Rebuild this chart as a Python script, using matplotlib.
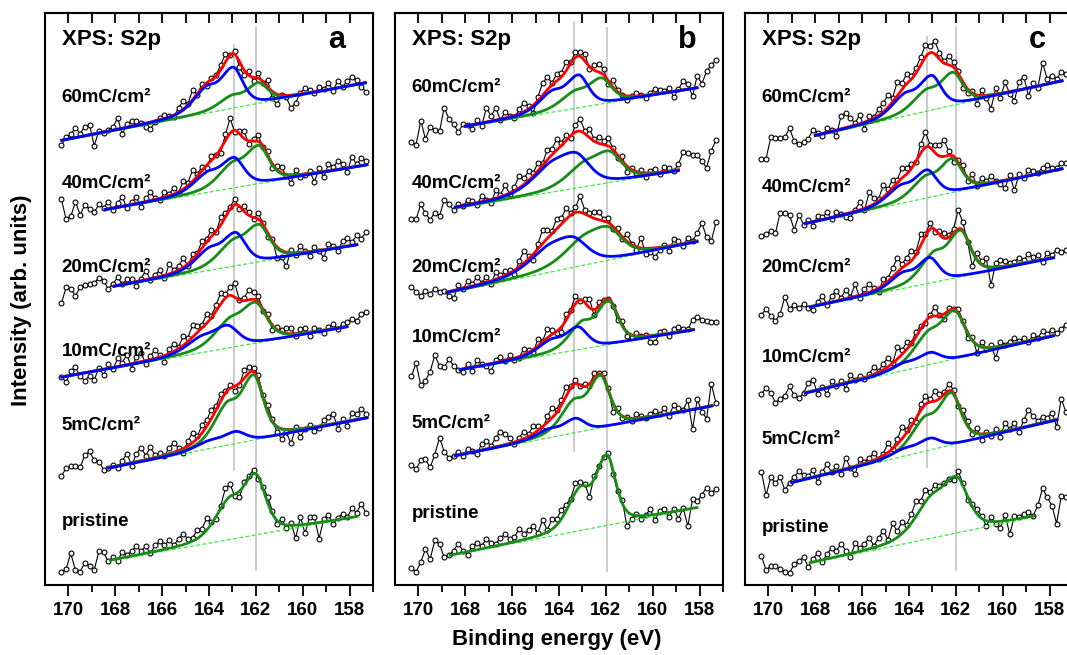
import numpy as np
import matplotlib.pyplot as plt

plt.rcParams['font.family'] = ['Liberation Sans', 'DejaVu Sans']
plt.rcParams['font.weight'] = 'bold'

# measured binding energies: 0.2 eV steps from 170.3 down to 157.3 eV
energy = np.round(np.arange(170.3, 157.25, -0.2), 2)

SO_SPLIT = 1.18   # S2p3/2 - S2p1/2 splitting (eV)
ASYM = 1.35       # extra width on the high binding energy side
ETA = 0.45        # lorentzian fraction of the line shape

doses = ['60mC/cm²', '40mC/cm²', '20mC/cm²', '10mC/cm²', '5mC/cm²', 'pristine']
letters = ['a', 'b', 'c']

# ---- fit results, spectra listed top to bottom (vertical offsets included) ----
# panel a
fit_lo_a = [170.28, 168.43, 168.05, 170.28, 168.29, 168.22]
fit_hi_a = [157.33, 157.26, 157.69, 158.11, 157.26, 157.69]
bg_lo_a = [444.5, 375.0, 298.3, 207.7, 116.7, 24.3]
bg_hi_a = [502.0, 420.0, 340.0, 258.0, 167.0, 68.0]
blue_pos_a = [162.98, 162.95, 162.88, 163.24, 162.88, 0]
blue_amp_a = [41.0, 30.6, 33.6, 23.2, 12.2, 0]
blue_fwhm_a = [1.0, 1.05, 1.05, 1.15, 1.05, 1.0]
green_pos_a = [161.89, 161.89, 161.89, 162.03, 162.1, 162.03]
green_amp_a = [20.7, 38.4, 37.7, 41.2, 65.4, 61.7]
green_fwhm_a = [0.95, 1.05, 1.1, 1.15, 1.0, 1.05]
guides_a = [162.95, 162.0]

# panel b
fit_lo_b = [168.0, 168.43, 168.79, 168.22, 168.43, 168.65]
fit_hi_b = [158.11, 158.9, 158.11, 158.26, 157.47, 158.11]
bg_lo_b = [458.3, 376.7, 291.7, 215.0, 129.0, 29.3]
bg_hi_b = [497.0, 414.0, 343.0, 255.0, 179.0, 77.0]
blue_pos_b = [163.17, 163.31, 163.45, 163.21, 163.31, 0]
blue_amp_b = [33.0, 36.5, 31.8, 23.2, 14.4, 0]
blue_fwhm_b = [1.0, 1.45, 1.55, 1.0, 0.95, 1.0]
green_pos_b = [162.21, 161.89, 161.96, 161.89, 162.24, 161.96]
green_amp_b = [26.3, 32.1, 34.8, 44.2, 52.6, 70.8]
green_fwhm_b = [1.05, 1.3, 1.5, 0.95, 0.95, 0.9]
guides_b = [163.38, 161.96]

# panel c
fit_lo_c = [168.0, 168.43, 168.22, 168.43, 169.0, 168.22]
fit_hi_c = [157.47, 157.47, 157.83, 157.83, 157.69, 158.68]
bg_lo_c = [449.0, 361.0, 277.7, 191.7, 102.3, 21.7]
bg_hi_c = [504.0, 416.0, 327.0, 249.0, 165.0, 68.0]
blue_pos_c = [163.05, 163.24, 163.13, 163.1, 163.1, 0]
blue_amp_c = [34.9, 28.2, 25.7, 12.1, 11.9, 0]
blue_fwhm_c = [1.0, 1.0, 0.95, 1.0, 1.0, 1.0]
green_pos_c = [162.14, 162.17, 161.81, 162.07, 162.21, 161.99]
green_amp_c = [33.2, 34.2, 46.8, 48.6, 52.5, 57.1]
green_fwhm_c = [1.0, 1.0, 1.0, 1.1, 1.0, 1.2]
guides_c = [163.24, 162.0]

res_a = [
    [-5, 2, 4, 10, 3, 9, 10, -12, 2, -1, 1, 3, 11, -6, 3, 5, 4, 1, -4, -7, -1, 2,
     3, 1, -2, 5, 8, 1, 10, -1, 4, -3, 2, 1, 5, 8, 0, 3, -6, -5, 4, -4, 5, -2,
     7, -7, -10, 0, -2, -13, -8, 1, 5, 3, -1, 4, 1, 6, -2, 7, 0, 5, 8, 4, -4, -9],
    [18, -3, -1, 13, -1, 8, 3, -1, 6, 2, 7, -2, 4, 9, -3, 2, 6, -5, 3, 8, 1, -2,
     5, 2, 6, -1, 8, 3, 11, 2, 4, -3, 5, 1, -4, 6, 15, -2, 3, 7, -3, 2, 6, -1,
     4, -5, 3, 6, -2, -8, 5, -3, -1, 2, -9, 4, -6, 7, 3, 8, 5, -4, 10, 2, 7, 4],
    [-8, 7, 5, -3, 5, 6, 6, 6, 11, 7, -2, 2, 8, 0, 4, 3, -4, 2, 9, -1, 3, 6,
     -3, 10, 2, 4, 9, -2, 5, 1, 7, 3, 6, -1, 8, 4, 2, 6, -3, 5, 3, -2, 6, 1,
     -4, 2, -11, -7, -14, 3, -2, 6, 1, -5, 4, -1, -8, 5, 2, -4, 6, 8, 3, 9, 5, 11],
    [0, -6, 4, 7, -3, -8, -4, -9, 2, -6, 4, -2, 8, 3, 10, -5, 6, 9, -3, 4, 8, 2,
     -6, 5, 7, 2, 9, 4, 12, 6, 3, 9, 2, 6, 11, 4, 8, 14, 0, 3, 10, 7, 6, -2,
     4, -5, 3, 2, 5, 6, -3, 4, 5, -4, 3, 1, -3, 2, 5, -1, 3, 4, 7, 4, 10, 11],
    [1, 8, 9, 8, 6, 17, 20, 10, 8, -1, 0, 2, -2, 4, 10, -3, 8, 13, 4, 11, 2, 3,
     -1, 6, 9, 3, -4, 5, 10, 2, 8, 6, 9, 4, 7, 2, 3, -5, -2, 8, 6, 4, 5, 1,
     6, 2, -6, -10, -3, -14, 2, -8, -1, 3, -4, -2, 5, 8, 10, -6, 3, -5, 7, 5, 10, 4],
    [-3, -1, 14, -4, -6, 2, -2, -7, 11, 9, -1, 3, -2, 6, 2, 5, 9, 3, 7, -1, 6, 9,
     4, 8, 2, 7, 11, 4, 3, 9, 6, 12, 2, -2, 3, 13, 12, -2, -6, 3, 2, 4, -3, 2,
     6, 3, -4, 5, -3, 2, -13, 8, -9, 7, 6, -16, 3, 6, -4, 2, 5, 1, 9, 4, 12, 2],
]
res_b = [
    [-7, -10, 13, -6, 5, 1, -1, 22, 10, 4, -5, 2, 0, -4, 4, -3, 14, 5, 12, -1, 6, 1,
     -3, 5, 9, 3, -8, 4, 12, 13, 2, 7, 4, 9, 1, 6, 4, 7, -2, 5, 8, 6, -3, 7,
     2, -1, -4, 0, 3, 1, -3, 2, 5, 3, 2, 4, -6, 1, 9, 5, -8, 12, 3, 15, 20, 25],
    [-4, -5, 9, -1, -8, -2, -6, 9, 4, -3, 2, -1, 5, 3, -2, 6, 1, -4, 8, 2, 10, -1,
     4, 12, 6, 9, 3, 8, 2, 10, 6, 11, 3, 5, -2, 7, 12, 3, 9, 2, 6, 4, 8, 1,
     -3, 5, -6, 2, -1, 3, -4, 2, 4, -2, 5, 3, -1, 6, 17, 15, 13, 12, 5, -2, 14, 24],
    [13, 7, 2, 6, 2, 6, 2, 2, -5, -8, 4, -1, 6, 2, 8, 1, 5, -3, 7, 2, 4, 3,
     -4, 6, 12, 3, -6, 5, 14, 8, 3, 10, 6, 11, 2, 5, 16, 4, 3, 6, 8, 2, 5, -3,
     4, -2, 7, 1, -3, 10, -6, -4, -9, -3, 2, -5, 6, 3, -2, 5, 1, 8, 17, 2, -3, 15],
    [2, 14, -9, -5, 3, 19, 7, 5, 12, 5, 0, -3, 4, -4, 6, 1, -2, -8, 3, 5, -1, 4,
     -2, -1, 6, 2, -3, 7, 1, 9, 4, -2, -5, 6, 2, 8, -1, 4, 9, -6, 5, 1, 0, -2,
     -5, 4, -4, -2, 3, 0, 1, -6, -7, 2, 3, -3, 4, 5, 2, 1, 10, 12, 8, 6, 5, 4],
    [-1, -6, 2, 2, -7, 5, 21, 6, -1, 0, 3, -2, 4, 1, -3, 6, 8, 2, 9, 14, 11, 5,
     -2, 3, 7, 2, 8, 4, -3, 6, 10, 3, 5, 9, 2, 4, -1, 3, -2, 5, 1, 4, 2, -9,
     3, -2, 1, -3, 4, 2, -1, 3, 5, 1, 6, -2, 8, 4, 1, 10, -20, 9, -4, -12, 22, 2],
    [-5, -10, -1, 11, 0, 18, 13, -1, 0, 4, 10, 2, -3, 5, 7, 3, 9, 4, 2, 7, 10, 4,
     5, 12, 6, 8, 11, 3, 14, 2, 10, 6, 9, 6, 3, 9, 4, 2, -12, 3, 2, 0, 3, -4,
     -2, 3, -15, -4, 2, -3, 0, 6, -6, 3, 4, -5, 3, -8, 2, -17, 9, 6, 12, 18, 12, 15],
]
res_c = [
    [-11, -12, 8, 6, 5, 5, 13, -1, -5, -4, -2, 6, 2, -3, 4, 1, -6, 13, 15, 8, 2, 9,
     -7, 4, 1, 6, 9, 12, 4, 14, 6, 10, 3, 5, 8, 12, 7, 13, 6, 2, 9, 5, 3, -6,
     -4, 2, -9, 5, -3, -14, 6, -5, 10, -2, -10, 8, 12, -8, 4, -2, 22, 5, 7, 3, 9, 6],
    [-3, -2, 0, -3, 16, 15, 12, -4, 10, -1, 3, -4, 5, 2, 6, -2, 4, 1, -3, -5, 1, 8,
     -2, 14, 6, 2, 12, 4, 8, 3, 10, 6, 5, -1, 9, 15, 3, 7, 11, 16, 4, -6, 2, 6,
     -4, 7, -3, 5, 2, 6, 1, -3, -8, 4, -12, 3, -2, 6, 4, 1, 5, 7, 3, 2, 6, 5],
    [2, 7, -1, -7, -1, 15, 2, 5, 1, 4, -1, -4, 3, 8, -2, 6, 10, 2, 9, 1, 12, -3,
     5, 8, 2, -4, 6, 3, 9, 14, 4, 7, 10, 3, 11, 2, 6, -3, 4, 5, 2, 4, 19, 8,
     -2, -15, 6, 3, 8, -18, 4, 7, 5, 2, 3, 6, 3, 8, 4, 5, -2, 6, 3, 7, 4, 5],
    [9, 14, 8, -3, 0, 2, 10, 0, -4, 0, 9, 11, -4, 2, -7, 5, -1, 3, -6, 6, 0, 3,
     -2, 2, 7, 1, 6, 9, 0, 12, 4, 7, 1, 5, 3, -1, 2, 9, 1, -5, 3, 0, 4, 1,
     -6, 3, -8, 5, -1, 2, -11, 4, 1, 3, 6, 2, 4, -1, 5, 1, 7, 3, 6, 2, 5, 8],
    [18, -7, 10, 3, 8, -6, 0, 5, 9, 4, 2, 7, -6, 3, 9, 0, 5, -4, 11, -1, -8, 6,
     1, 4, 7, -1, 2, 9, 0, 5, 12, 3, 6, -4, 6, 8, 3, 10, 5, 2, 7, 3, -2, 6,
     4, -3, 5, -6, 2, -3, 4, -5, 8, 1, 6, -4, 7, 16, 9, 3, 6, 4, 8, -7, 20, 5],
    [17, 2, 5, 4, 0, -4, -6, 2, 4, 7, -4, 3, 8, -2, 5, 10, 6, 12, 4, -3, 9, 3,
     6, 11, 2, 8, 14, 3, 17, 6, 12, 4, 9, 15, 8, 12, 4, 7, 3, 2, 1, -3, 6, 2,
     -4, 3, 5, 2, -5, 4, -2, -7, 6, -14, 3, 2, 4, 5, 0, 10, 26, 16, 7, -12, 15, 13],
]

# label heights and guide-line extents per panel
label_y = [[488, 402, 318, 233, 159, 64],
           [497, 402, 317, 248, 161, 71],
           [488, 397, 317, 228, 145, 58]]
guide_span = [[(115, 540), (15, 558)],
              [(134, 563), (14, 557)],
              [(118, 548), (15, 558)]]

panels = [
    (fit_lo_a, fit_hi_a, bg_lo_a, bg_hi_a, blue_pos_a, blue_amp_a, blue_fwhm_a,
     green_pos_a, green_amp_a, green_fwhm_a, guides_a, res_a),
    (fit_lo_b, fit_hi_b, bg_lo_b, bg_hi_b, blue_pos_b, blue_amp_b, blue_fwhm_b,
     green_pos_b, green_amp_b, green_fwhm_b, guides_b, res_b),
    (fit_lo_c, fit_hi_c, bg_lo_c, bg_hi_c, blue_pos_c, blue_amp_c, blue_fwhm_c,
     green_pos_c, green_amp_c, green_fwhm_c, guides_c, res_c),
]


def pseudo_voigt(E, c, fwhm):
    w = np.where(E > c, fwhm * ASYM, fwhm)
    x = (E - c) / w
    return ETA / (1 + 4 * x**2) + (1 - ETA) * np.exp(-4 * np.log(2) * x**2)


def doublet(E, pos, amp, fwhm):
    """S2p doublet scaled so that its maximum equals amp"""
    if amp <= 0:
        return np.zeros_like(E)
    shape = lambda e: pseudo_voigt(e, pos, fwhm) + 0.5 * pseudo_voigt(e, pos + SO_SPLIT, fwhm)
    ref = np.linspace(pos - 2, pos + 3, 1001)
    return amp * shape(E) / shape(ref).max()


fig = plt.figure(figsize=(10.67, 6.55), dpi=100)
lefts = [45 / 1067, 395 / 1067, 745 / 1067]

for p, (lo_l, hi_l, bgl, bgh, bpos, bamp, bw, gpos, gamp, gw, guides, res) in enumerate(panels):
    ax = fig.add_axes([lefts[p], 70 / 655, 328 / 1067, 572 / 655])
    ax.set_xlim(171, 157)
    ax.set_ylim(0, 572)

    for g, (y0, y1) in zip(guides, guide_span[p]):
        ax.plot([g, g], [y0, y1], color='#c8c8c8', lw=1.3, zorder=1)

    for i in range(6):
        lo, hi = lo_l[i], hi_l[i]
        slope = (bgh[i] - bgl[i]) / (lo - hi)

        # data points
        bg_d = bgl[i] + slope * (lo - energy)
        model_d = bg_d + doublet(energy, bpos[i], bamp[i], bw[i]) + doublet(energy, gpos[i], gamp[i], gw[i])
        ax.plot(energy, model_d + np.array(res[i]), color='black', lw=0.8,
                marker='o', ms=3.5, mfc='white', mec='black', mew=0.8, zorder=2)

        # fit curves
        ef = np.linspace(lo, hi, 400)
        bg = bgl[i] + slope * (lo - ef)
        blue = doublet(ef, bpos[i], bamp[i], bw[i])
        green = doublet(ef, gpos[i], gamp[i], gw[i])
        ax.plot([lo, hi], [bgl[i], bgh[i]], color='#33ee33', lw=0.9,
                ls=(0, (3, 2)), zorder=3)
        if bamp[i] > 0:
            ax.plot(ef, bg + blue + green, color='#ff0000', lw=2, zorder=4)
        ax.plot(ef, bg + green, color='#178c17', lw=2, zorder=5)
        if bamp[i] > 0:
            ax.plot(ef, bg + blue, color='#0000ff', lw=2, zorder=6)

        ax.text(0.051, label_y[p][i], doses[i], transform=ax.get_yaxis_transform(),
                fontsize=13.5, fontweight='bold', va='center', ha='left')

    ax.text(0.051, 545, 'XPS: S2p', transform=ax.get_yaxis_transform(),
            fontsize=16, fontweight='bold', va='center', ha='left')
    ax.text(0.89, 545, letters[p], transform=ax.get_yaxis_transform(),
            fontsize=22, fontweight='bold', va='center', ha='center')

    ax.set_yticks([])
    ax.set_xticks(np.arange(158, 171, 2))
    ax.set_xticks(np.arange(157, 171, 2), minor=True)
    ax.tick_params(axis='x', which='major', direction='out', length=8, width=1.3,
                   labelsize=13.5, pad=4)
    ax.tick_params(axis='x', which='minor', direction='out', length=5, width=1.3)
    for lab in ax.get_xticklabels():
        lab.set_fontweight('bold')
    for s in ax.spines.values():
        s.set_linewidth(1.5)

    top = ax.secondary_xaxis('top')
    top.set_xticks(np.arange(157, 171, 1))
    top.tick_params(direction='in', length=7, width=1.3, labeltop=False)
    top.spines['top'].set_linewidth(1.5)

fig.text(0.522, 0.023, 'Binding energy (eV)', ha='center', va='center',
         fontsize=16, fontweight='bold')
fig.text(0.0203, 0.542, 'Intensity (arb. units)', ha='center', va='center',
         rotation=90, fontsize=16, fontweight='bold')

fig.savefig('out.png', dpi=100)
